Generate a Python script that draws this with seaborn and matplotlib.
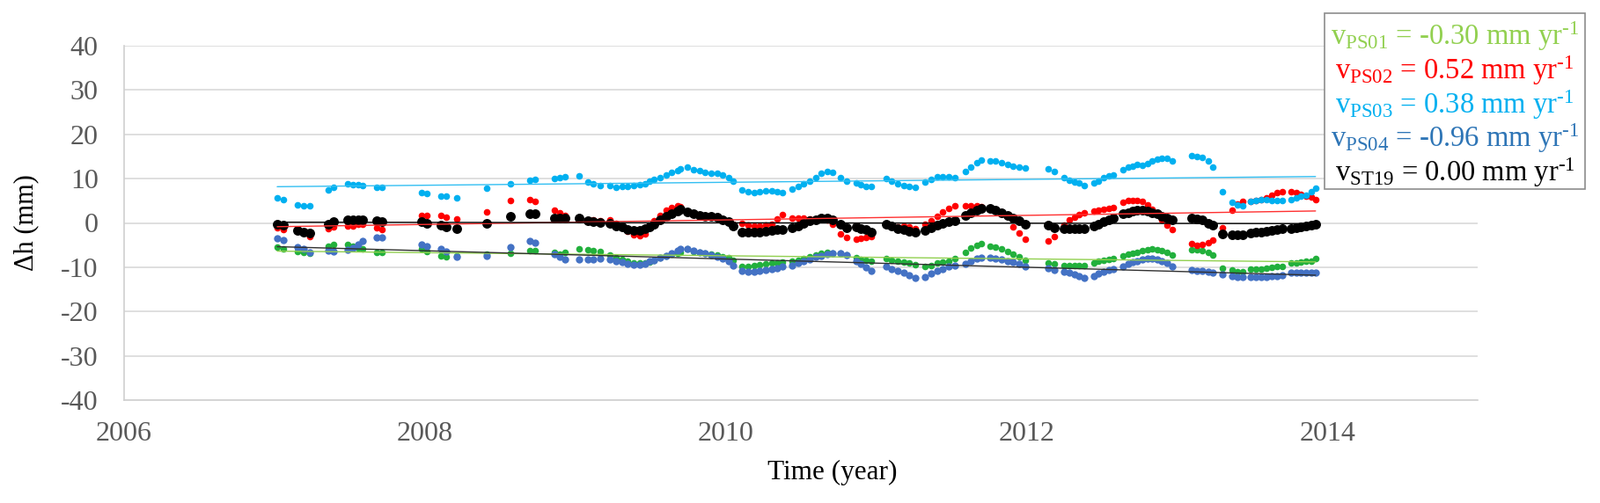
import matplotlib
matplotlib.use("Agg")
import matplotlib.pyplot as plt
from matplotlib.patches import Rectangle
import seaborn as sns
import pandas as pd

# acquisition epochs (decimal year)
dates = [2007.018, 2007.057, 2007.155, 2007.193, 2007.232, 2007.359, 2007.392, 2007.486, 2007.521, 2007.554,
         2007.587, 2007.681, 2007.714, 2007.979, 2008.013, 2008.106, 2008.143, 2008.214, 2008.412, 2008.569,
         2008.695, 2008.734, 2008.861, 2008.896, 2008.929, 2009.023, 2009.085, 2009.118, 2009.163,
         2009.232, 2009.271, 2009.310, 2009.349, 2009.388, 2009.427, 2009.466, 2009.495, 2009.524, 2009.563,
         2009.602, 2009.641, 2009.680, 2009.700,
         2009.748, 2009.787, 2009.826, 2009.865, 2009.904, 2009.943, 2009.982, 2010.018, 2010.047,
         2010.109, 2010.148, 2010.187, 2010.226, 2010.265, 2010.304, 2010.343, 2010.378,
         2010.441, 2010.480, 2010.519, 2010.558, 2010.597, 2010.636, 2010.675, 2010.710,
         2010.763, 2010.802,
         2010.866, 2010.899, 2010.932, 2010.967,
         2011.069, 2011.104, 2011.143, 2011.182, 2011.221, 2011.260,
         2011.328, 2011.367, 2011.406, 2011.445, 2011.484, 2011.523,
         2011.592, 2011.631, 2011.670, 2011.699,
         2011.757, 2011.796, 2011.835, 2011.874, 2011.913, 2011.952, 2011.991,
         2012.147, 2012.183,
         2012.251, 2012.284, 2012.317, 2012.352, 2012.385,
         2012.446, 2012.479, 2012.512, 2012.547, 2012.580,
         2012.639, 2012.674, 2012.707, 2012.738, 2012.771, 2012.804, 2012.836, 2012.869, 2012.902, 2012.933,
         2012.970,
         2013.097, 2013.136, 2013.171, 2013.207, 2013.240,
         2013.304,
         2013.366, 2013.401, 2013.435,
         2013.493, 2013.528, 2013.561, 2013.597, 2013.630, 2013.665, 2013.698,
         2013.757, 2013.792, 2013.825, 2013.860, 2013.893, 2013.922]

ps01 = [-5.5, -5.9, -6.4, -6.6, -6.8, -5.3, -4.9, -4.9, -5.3, -5.6, -5.9, -6.6, -6.6, -5.9, -6.4, -7.4, -7.6,
        -7.4, -7.0, -6.9, -6.25, -6.25, -6.7, -7.1, -6.7, -5.9, -6.0, -6.25, -6.45,
        -7.2, -7.8, -8.2, -8.7, -9.0, -9.1, -9.1, -8.9, -8.4, -7.9, -7.4, -7.1, -6.9, -6.7,
        -5.9, -6.4, -6.6, -6.9, -7.1, -7.2, -7.6, -7.9, -8.4,
        -9.75, -9.75, -9.55, -9.4, -9.2, -9.1, -9.0, -8.9,
        -8.7, -8.4, -8.0, -7.6, -7.2, -6.9, -6.7, -6.9,
        -6.9, -7.2,
        -7.8, -8.2, -8.4, -8.7,
        -8.0, -8.4, -8.7, -8.9, -9.1, -9.35,
        -9.75, -9.55, -9.1, -8.9, -8.6, -8.0,
        -6.6, -5.6, -5.1, -4.7,
        -5.3, -5.5, -5.9, -6.4, -7.0, -7.6, -8.4,
        -9.1, -9.2,
        -9.55, -9.55, -9.55, -9.55, -9.55,
        -9.1, -8.7, -8.4, -8.2, -8.0,
        -7.35, -7.1, -6.9, -6.6, -6.25, -6.05, -5.9, -6.05, -6.25, -6.6, -7.2,
        -6.1, -6.1, -6.25, -6.6, -7.2,
        -10.2,
        -10.7, -11.1, -11.1,
        -10.5, -10.4, -10.4, -10.2, -10.0, -9.9, -9.75,
        -9.1, -9.1, -8.9, -8.7, -8.6, -8.0]

ps02 = [-1.0, -1.5, -1.8, -2.2, -3.1, -1.2, -0.8, -0.6, -0.6, -0.3, -0.3, -1.0, -1.5, 1.7, 1.7, 1.7, 1.35,
        0.8, 2.5, 5.1, 5.3, 4.9, 2.8, 2.3, 1.7, 1.0, 0.7, 0.6, 0.4,
        0.7, 0.0, -0.7, -1.8, -2.7, -2.8, -2.4, -1.0, 0.5, 1.7, 2.8, 3.4, 3.8, 3.7,
        2.4, 1.9, 1.6, 1.4, 1.3, 1.1, 0.8, 0.3, -0.3,
        -0.1, -0.5, -0.6, -0.6, -0.5, -0.2, 0.9, 1.8,
        1.0, 1.0, 1.0, 0.9, 0.8, 0.8, 0.6, -0.3,
        -2.5, -3.3,
        -3.6, -3.4, -3.3, -3.1,
        -0.3, -0.6, -0.9, -0.6, -0.9, -1.3,
        -0.3, 0.5, 1.4, 2.4, 3.2, 3.8,
        3.9, 3.9, 3.8, 3.7,
        3.3, 2.9, 2.4, 1.5, -0.8, -2.3, -3.6,
        -4.1, -3.1,
        -0.5, 0.6, 1.2, 1.9, 2.3,
        2.7, 2.8, 3.0, 3.2, 3.5,
        4.7, 5.0, 5.0, 5.0, 4.8, 4.0, 3.0, 2.0, 0.6, -0.5, -1.4,
        -4.6, -5.1, -4.9, -4.5, -3.8,
        -1.0,
        2.8, 4.2, 4.8,
        4.9, 5.1, 5.3, 5.6, 6.3, 6.8, 7.0,
        7.1, 6.8, 6.4, 6.0, 5.8, 5.3]

ps03 = [5.65, 5.2, 4.0, 3.8, 3.8, 7.4, 8.0, 8.8, 8.6, 8.6, 8.4, 8.0, 8.0, 6.8, 6.6, 6.1, 6.0, 5.65, 7.8, 8.8,
        9.6, 9.8, 10.1, 10.2, 10.4, 10.6, 9.3, 8.8, 8.4,
        8.4, 8.1, 8.3, 8.3, 8.5, 8.7, 8.9, 9.4, 9.8, 10.3, 10.8, 11.4, 11.9, 12.3,
        12.6, 12.1, 11.8, 11.5, 11.3, 11.3, 10.9, 10.3, 9.5,
        7.4, 7.0, 6.8, 7.0, 7.2, 7.3, 7.1, 6.8,
        7.6, 8.3, 8.9, 9.5, 10.3, 11.2, 11.7, 11.4,
        10.3, 9.4,
        9.0, 8.6, 8.3, 8.2,
        10.1, 9.5, 8.9, 8.4, 8.2, 8.1,
        9.2, 9.8, 10.4, 10.5, 10.4, 10.2,
        11.6, 12.7, 13.5, 14.2,
        14.0, 13.9, 13.6, 13.3, 12.9, 12.6, 12.5,
        12.3, 11.6,
        10.3, 9.6, 9.2, 9.0, 8.4,
        9.0, 9.4, 10.3, 10.6, 10.9,
        12.1, 12.6, 12.9, 13.3, 13.1, 13.4, 13.9, 14.4, 14.6, 14.6, 14.0,
        15.2, 15.0, 14.7, 14.0, 12.6,
        7.0,
        4.7, 4.0, 3.8,
        4.9, 5.1, 5.3, 5.3, 5.1, 5.1, 5.0,
        5.3, 5.6, 6.0, 6.3, 7.1, 7.8]

ps04 = [-3.4, -3.8, -5.5, -5.9, -6.6, -6.25, -6.4, -6.05, -5.6, -4.9, -4.1, -3.3, -3.3, -4.9, -5.3, -5.9,
        -6.4, -7.7, -7.4, -5.5, -4.1, -4.5, -7.1, -7.6, -8.2, -8.2, -8.2, -8.2, -8.0,
        -8.2, -8.55, -8.9, -9.2, -9.4, -9.4, -9.2, -8.7, -8.4, -7.9, -7.4, -6.9, -6.25, -5.9,
        -5.9, -6.25, -6.6, -6.9, -7.2, -7.6, -8.0, -8.7, -9.55,
        -10.9, -11.1, -11.1, -10.9, -10.7, -10.4, -10.2, -9.9,
        -9.55, -9.1, -8.7, -8.2, -7.6, -7.35, -7.1, -6.9,
        -6.9, -7.2,
        -8.55, -9.2, -10.0, -10.9,
        -9.9, -10.4, -10.9, -11.3, -11.9, -12.4,
        -12.2, -11.5, -10.9, -10.4, -9.9, -9.55,
        -9.2, -8.6, -8.1, -7.8,
        -7.8, -8.0, -8.3, -8.6, -8.9, -9.2, -9.9,
        -10.2, -10.7,
        -11.1, -11.3, -11.7, -12.0, -12.4,
        -12.0, -11.5, -11.1, -10.7, -10.4,
        -9.75, -9.2, -8.9, -8.55, -8.2, -8.0, -8.0, -8.2, -8.55, -9.1, -9.75,
        -10.7, -10.9, -10.9, -11.1, -11.2,
        -11.7,
        -12.0, -12.2, -12.2,
        -12.2, -12.2, -12.2, -12.2, -12.0, -12.0, -11.9,
        -11.2, -11.2, -11.3, -11.3, -11.3, -11.3]

st19 = [-0.2, -0.5, -1.7, -2.1, -2.3, -0.3, 0.2, 0.7, 0.7, 0.7, 0.7, 0.4, 0.2, 0.35, 0.0, -0.5, -0.8, -1.3,
        0.0, 1.5, 2.0, 2.0, 1.0, 1.0, 1.0, 1.1, 0.55, 0.35, 0.15,
        -0.1, -0.6, -0.95, -1.4, -1.6, -1.6, -1.3, -0.8, -0.3, 0.6, 1.4, 2.0, 2.7, 3.0,
        2.5, 2.0, 1.7, 1.5, 1.4, 1.2, 0.7, 0.2, -0.6,
        -2.0, -2.1, -2.1, -2.0, -1.8, -1.6, -1.5, -1.4,
        -1.0, -0.6, -0.1, 0.4, 0.7, 1.0, 1.0, 0.7,
        -0.3, -1.0,
        -0.8, -1.2, -1.5, -2.0,
        -0.3, -0.6, -1.2, -1.5, -1.8, -2.1,
        -1.6, -1.0, -0.5, -0.1, 0.2, 0.4,
        1.7, 2.3, 2.8, 3.3,
        3.2, 2.8, 2.3, 1.7, 1.0, 0.4, -0.3,
        -0.5, -1.0,
        -1.3, -1.3, -1.3, -1.3, -1.3,
        -0.6, -0.3, 0.2, 0.6, 1.0,
        2.0, 2.3, 2.6, 2.8, 2.8, 2.6, 2.3, 2.0, 1.5, 1.0, 0.7,
        1.0, 0.8, 0.6, -0.1, -0.5,
        -2.5,
        -2.75, -2.75, -2.6,
        -2.3, -2.1, -2.0, -1.8, -1.6, -1.5, -1.3,
        -1.2, -1.0, -0.8, -0.6, -0.5, -0.3]

names = ['PS01', 'PS02', 'PS03', 'PS04', 'ST19']
rates = ['-0.30', '0.52', '0.38', '-0.96', '0.00']
dot_colors = ['#22B03C', '#FF0000', '#00B0F0', '#4472C4', '#000000']
trend_colors = ['#92D050', '#FF3030', '#33BFF2', '#303030', '#000000']
label_colors = ['#92D050', '#FF0000', '#00B0F0', '#2E75B6', '#000000']
dot_sizes = [30, 30, 30, 36, 62]

df = pd.DataFrame({'time': dates, 'PS01': ps01, 'PS02': ps02, 'PS03': ps03,
                   'PS04': ps04, 'ST19': st19})

sns.set_style('white')
plt.rcParams['font.family'] = ['Liberation Serif', 'DejaVu Serif']
plt.rcParams['mathtext.fontset'] = 'custom'
plt.rcParams['mathtext.rm'] = 'Liberation Serif'
plt.rcParams['mathtext.default'] = 'regular'
plt.rcParams['axes.unicode_minus'] = False

fig = plt.figure(figsize=(18.18, 5.72), dpi=100)
ax = fig.add_axes([141 / 1818, 1 - 455 / 572, 1538 / 1818, 403 / 572])

for i, name in enumerate(names):
    sns.scatterplot(data=df, x='time', y=name, color=dot_colors[i], s=dot_sizes[i],
                    linewidth=0, ax=ax, zorder=2 + i * 0.1)

# linear trend lines
for i, name in enumerate(names):
    sns.regplot(data=df, x='time', y=name, scatter=False, ci=None, ax=ax,
                color=trend_colors[i], line_kws={'lw': 1.0, 'zorder': 3})

ax.set_xlim(2006, 2015)
ax.set_ylim(-40, 40)
ax.set_xticks(range(2006, 2015, 2))
ax.set_yticks(range(-40, 41, 10))
ax.yaxis.grid(True, color='#D9D9D9', lw=1.2)
ax.xaxis.grid(False)
ax.set_axisbelow(True)
for side in ['top', 'right']:
    ax.spines[side].set_visible(False)
for side in ['left', 'bottom']:
    ax.spines[side].set_color('#D0D0D0')
    ax.spines[side].set_linewidth(1.2)
ax.tick_params(axis='both', length=0, labelsize=23, labelcolor='#595959')
ax.tick_params(axis='y', pad=21)
ax.tick_params(axis='x', pad=17)

ax.set_xlabel('Time (year)', fontsize=22.5, color='black')
ax.xaxis.set_label_coords(946 / 1818, 1 - 537 / 572, transform=fig.transFigure)
ax.xaxis.label.set_va('center')
ax.set_ylabel('Δh (mm)', fontsize=22, color='black')
ax.yaxis.set_label_coords(30 / 1818, 1 - 253 / 572, transform=fig.transFigure)
ax.yaxis.label.set_rotation_mode('default')
ax.yaxis.label.set_va('center')
ax.yaxis.label.set_ha('center')

# rate box in the top right corner
fig.add_artist(Rectangle((1505 / 1818, 1 - 215 / 572), 296 / 1818, 200 / 572,
                         transform=fig.transFigure, facecolor='white',
                         edgecolor='#8C8C8C', lw=1.2, zorder=5))
for i, name in enumerate(names):
    txt = 'v$_{%s}$ = %s mm yr$^{\u20101}$' % (name, rates[i])
    fig.text(1653 / 1818, 1 - (51 + 38.8 * i) / 572, txt, ha='center', va='baseline',
             fontsize=23.5, color=label_colors[i], zorder=6)

fig.savefig('out.png', dpi=100)
